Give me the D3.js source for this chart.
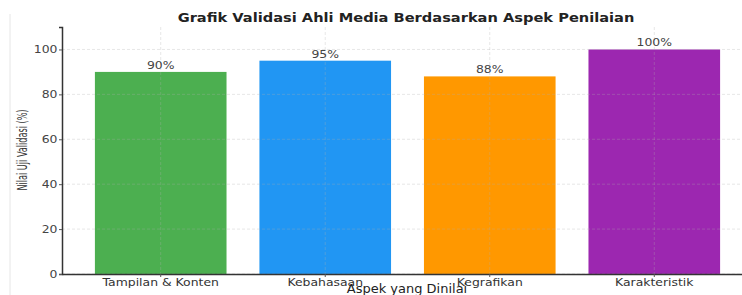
<!DOCTYPE html>
<html>
<head>
<meta charset="utf-8">
<script src="https://cdn.jsdelivr.net/npm/d3@7"></script>
<style>
  body { margin: 0; background: #fff; }
  svg { display: block; font-family: "DejaVu Sans", sans-serif; }
</style>
</head>
<body>
<script>
var categories = ["Tampilan & Konten", "Kebahasaan", "Kegrafikan", "Karakteristik"];
var values = [90, 95, 88, 100];
var colors = ["#4CAF50", "#2196F3", "#FF9800", "#9C27B0"];
var yTicks = [0, 20, 40, 60, 80, 100];

var width = 742, height = 295;
var margin = {left: 62, top: 27, bottom: 21};
var plotRight = 753;
var stretch = 1.13; // the source picture is a bit wider than tall

var svg = d3.select("body").append("svg")
  .attr("width", width)
  .attr("height", height);

// faint left frame line
svg.append("line")
  .attr("x1", 10).attr("x2", 10)
  .attr("y1", 14).attr("y2", height)
  .attr("stroke", "#e6e6e6");

var x = d3.scaleBand()
  .domain(categories)
  .range([margin.left, plotRight])
  .paddingInner(0.2)
  .paddingOuter(0.2);

var y = d3.scaleLinear()
  .domain([0, 110])
  .range([height - margin.bottom, margin.top]);

var g = svg.append("g");

// bars
g.selectAll("rect.bar")
  .data(values)
  .enter().append("rect")
  .attr("class", "bar")
  .attr("x", function(d, i) { return x(categories[i]); })
  .attr("y", function(d) { return y(d); })
  .attr("width", x.bandwidth())
  .attr("height", function(d) { return y(0) - y(d); })
  .attr("fill", function(d, i) { return colors[i]; });

// grid on top, faint
g.selectAll("line.hgrid")
  .data(yTicks)
  .enter().append("line")
  .attr("class", "hgrid")
  .attr("x1", margin.left).attr("x2", plotRight)
  .attr("y1", function(d) { return y(d); })
  .attr("y2", function(d) { return y(d); })
  .attr("stroke", "#b0b0b0")
  .attr("stroke-opacity", 0.3)
  .attr("stroke-dasharray", "3,2");

g.selectAll("line.vgrid")
  .data(categories)
  .enter().append("line")
  .attr("class", "vgrid")
  .attr("x1", function(d) { return x(d) + x.bandwidth() / 2; })
  .attr("x2", function(d) { return x(d) + x.bandwidth() / 2; })
  .attr("y1", margin.top).attr("y2", y(0))
  .attr("stroke", "#b0b0b0")
  .attr("stroke-opacity", 0.3)
  .attr("stroke-dasharray", "3,2");

// value labels
g.selectAll("text.val")
  .data(values)
  .enter().append("text")
  .attr("class", "val")
  .attr("transform", function(d, i) {
    return "translate(" + (x(categories[i]) + x.bandwidth() / 2) + "," + (y(d) - 3) + ") scale(" + stretch + ",1)";
  })
  .attr("text-anchor", "middle")
  .attr("font-size", 11)
  .attr("fill", "#444")
  .text(function(d) { return d + "%"; });

// axes
var yAxis = svg.append("g")
  .attr("transform", "translate(" + margin.left + ",0)")
  .call(d3.axisLeft(y).tickValues(yTicks).tickSize(3).tickPadding(1));
yAxis.select(".domain").attr("stroke", "#333").attr("stroke-width", 1.5);
yAxis.selectAll(".tick line").attr("stroke", "#555");
yAxis.selectAll("text").attr("font-size", 11).attr("fill", "#444")
  .attr("font-family", "DejaVu Sans, sans-serif")
  .attr("transform", "scale(" + stretch + ",1)");

var xAxis = svg.append("g")
  .attr("transform", "translate(0," + y(0) + ")")
  .call(d3.axisBottom(x).tickSize(3).tickPadding(1).tickSizeOuter(0));
xAxis.select(".domain").attr("stroke", "#333").attr("stroke-width", 1.5);
xAxis.selectAll(".tick line").attr("stroke", "#555");
xAxis.selectAll("text").attr("font-size", 11).attr("fill", "#333")
  .attr("font-family", "DejaVu Sans, sans-serif")
  .attr("transform", "scale(" + stretch + ",1)");

// title
svg.append("text")
  .attr("transform", "translate(406,22) scale(1.17,1)")
  .attr("text-anchor", "middle")
  .attr("font-size", 12.5)
  .attr("font-weight", "bold")
  .attr("fill", "#222")
  .text("Grafik Validasi Ahli Media Berdasarkan Aspek Penilaian");

// axis titles
svg.append("text")
  .attr("transform", "translate(407,293) scale(" + stretch + ",1)")
  .attr("text-anchor", "middle")
  .attr("font-size", 11.5)
  .attr("fill", "#222")
  .text("Aspek yang Dinilai");

svg.append("text")
  .attr("transform", "translate(27,150) rotate(-90) scale(0.58,1)")
  .attr("text-anchor", "middle")
  .attr("font-size", 14)
  .attr("fill", "#333")
  .text("Nilai Uji Validasi (%)");
</script>
</body>
</html>
